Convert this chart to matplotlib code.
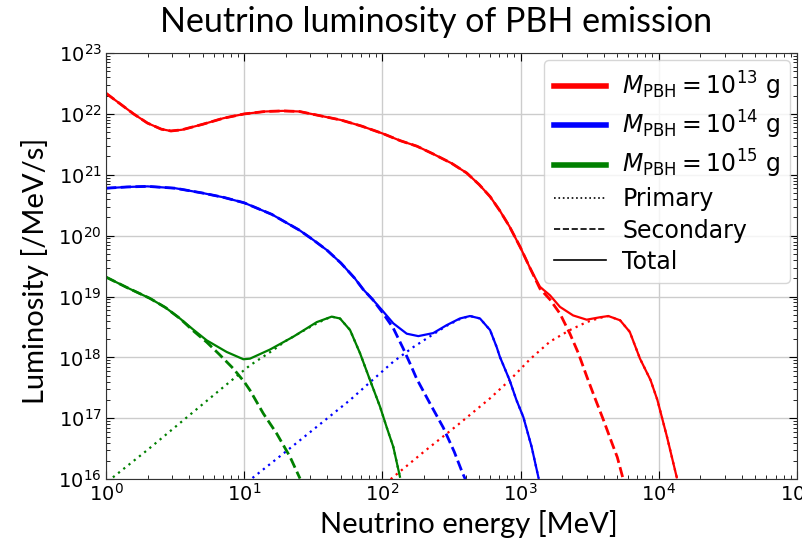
import numpy as np
import matplotlib
matplotlib.use("Agg")
import matplotlib.pyplot as plt
from matplotlib.lines import Line2D

# valores (log10 da energia em MeV, log10 da luminosidade em /MeV/s)
red_tot_logE = [0.0, 0.1, 0.2, 0.3, 0.4, 0.47, 0.55, 0.7, 0.85, 1.0, 1.15, 1.28, 1.4, 1.55, 1.7, 1.85, 2.0, 2.13, 2.25, 2.37, 2.5, 2.61, 2.7, 2.78, 2.85, 2.92, 3.0, 3.068, 3.14, 3.213, 3.285, 3.38, 3.478, 3.575, 3.635, 3.72, 3.79, 3.864, 3.94, 3.99, 4.06, 4.13]
red_tot_logL = [22.34, 22.17, 22.0, 21.85, 21.75, 21.72, 21.74, 21.83, 21.93, 22.0, 22.04, 22.05, 22.04, 21.97, 21.9, 21.8, 21.68, 21.56, 21.47, 21.34, 21.19, 21.03, 20.84, 20.64, 20.41, 20.15, 19.80, 19.47, 19.16, 19.02, 18.83, 18.69, 18.62, 18.66, 18.68, 18.61, 18.42, 17.98, 17.63, 17.30, 16.69, 16.03]
red_sec_logE = red_tot_logE[:28] + [3.14, 3.213, 3.285, 3.357, 3.418, 3.48, 3.54, 3.60, 3.66, 3.70, 3.74]
red_sec_logL = red_tot_logL[:28] + [19.13, 18.95, 18.72, 18.39, 18.07, 17.68, 17.32, 16.97, 16.6, 16.36, 16.02]
red_prim_logE = [2.06, 2.3, 2.55, 2.78, 2.923, 3.068, 3.213, 3.357, 3.478, 3.575, 3.635, 3.72, 3.79, 3.864, 3.94, 3.99, 4.06, 4.13]
red_prim_logL = [16.0, 16.45, 16.9, 17.33, 17.63, 17.97, 18.26, 18.45, 18.58, 18.65, 18.68, 18.61, 18.42, 17.98, 17.63, 17.30, 16.69, 16.03]

blue_tot_logE = [0.0, 0.15, 0.3, 0.5, 0.7, 0.85, 1.0, 1.2, 1.4, 1.5, 1.6, 1.7, 1.8, 1.86, 1.93, 2.0, 2.079, 2.176, 2.26, 2.368, 2.465, 2.561, 2.634, 2.706, 2.779, 2.827, 2.85, 2.92, 2.97, 3.02, 3.08, 3.13]
blue_tot_logL = [20.78, 20.80, 20.81, 20.78, 20.70, 20.63, 20.54, 20.35, 20.09, 19.93, 19.76, 19.55, 19.30, 19.12, 18.95, 18.77, 18.56, 18.39, 18.35, 18.40, 18.53, 18.64, 18.68, 18.64, 18.45, 18.17, 18.01, 17.63, 17.30, 17.02, 16.53, 16.02]
blue_sec_logE = blue_tot_logE[:15] + [2.0, 2.079, 2.15, 2.2, 2.248, 2.35, 2.44, 2.52, 2.58, 2.6]
blue_sec_logL = blue_tot_logL[:15] + [18.74, 18.48, 18.15, 17.90, 17.65, 17.22, 16.85, 16.45, 16.10, 16.0]
blue_prim_logE = [1.06, 1.283, 1.525, 1.766, 1.934, 2.079, 2.224, 2.368, 2.465, 2.561, 2.634, 2.706, 2.779, 2.827, 2.85, 2.92, 2.97, 3.02, 3.08, 3.13]
blue_prim_logL = [16.02, 16.42, 16.86, 17.30, 17.64, 17.93, 18.17, 18.38, 18.52, 18.63, 18.68, 18.64, 18.45, 18.17, 18.01, 17.63, 17.30, 17.02, 16.53, 16.02]

green_tot_logE = [0.0, 0.15, 0.318, 0.43, 0.535, 0.63, 0.729, 0.873, 0.994, 1.042, 1.187, 1.355, 1.525, 1.633, 1.693, 1.766, 1.838, 1.91, 1.983, 2.03, 2.079, 2.127]
green_tot_logL = [19.32, 19.15, 18.97, 18.82, 18.64, 18.46, 18.28, 18.09, 17.97, 17.98, 18.13, 18.34, 18.58, 18.67, 18.64, 18.45, 18.07, 17.63, 17.19, 16.86, 16.53, 16.04]
green_sec_logE = green_tot_logE[:5] + [0.63, 0.729, 0.82, 0.92, 1.0, 1.042, 1.138, 1.235, 1.331, 1.404]
green_sec_logL = green_tot_logL[:5] + [18.44, 18.25, 18.05, 17.82, 17.6, 17.46, 17.08, 16.75, 16.37, 16.01]
green_prim_logE = [0.05, 0.3, 0.55, 0.8, 0.95, 1.042, 1.21, 1.3, 1.4, 1.5, 1.58, 1.633, 1.693, 1.766, 1.838, 1.91, 1.983, 2.03, 2.079, 2.127]
green_prim_logL = [16.03, 16.48, 16.95, 17.42, 17.7, 17.87, 18.12, 18.27, 18.4, 18.53, 18.62, 18.67, 18.64, 18.45, 18.07, 17.63, 17.19, 16.86, 16.53, 16.04]

massas = ['13', '14', '15']
cores = ['red', 'blue', 'green']

curvas = [
    (red_tot_logE, red_tot_logL, red_sec_logE, red_sec_logL, red_prim_logE, red_prim_logL),
    (blue_tot_logE, blue_tot_logL, blue_sec_logE, blue_sec_logL, blue_prim_logE, blue_prim_logL),
    (green_tot_logE, green_tot_logL, green_sec_logE, green_sec_logL, green_prim_logE, green_prim_logL),
]

plt.rcParams['xtick.direction'] = 'in'
plt.rcParams['ytick.direction'] = 'in'
plt.rcParams['xtick.top'] = True
plt.rcParams['ytick.right'] = True

fig = plt.figure(figsize=(8.03, 5.47), dpi=100)
ax = fig.add_axes([0.132, 0.124, 0.8605, 0.779])

def p10(v):
    return 10 ** np.array(v)

for cor, (tE, tL, sE, sL, pE, pL) in zip(cores, curvas):
    ax.plot(p10(pE), p10(pL), color=cor, lw=1.6, linestyle=(0, (1, 2)))
    ax.plot(p10(sE), p10(sL), color=cor, lw=2, linestyle='--')
    ax.plot(p10(tE), p10(tL), color=cor, lw=1.6)

ax.set_xscale('log')
ax.set_yscale('log')
ax.set_xlim(1, 1e5)
ax.set_ylim(1e16, 1e23)
ax.grid(True, which='major', color='#cccccc', lw=1)
ax.tick_params(labelsize=14, pad=3)
ax.tick_params(which='major', length=6)
ax.tick_params(which='minor', length=3)
for s in ax.spines.values():
    s.set_color('#333333')

fonte = ['Lato', 'DejaVu Sans']
fig.text(436 / 803, 1 - 22 / 547, 'Neutrino luminosity of PBH emission', fontsize=24.5,
         family=fonte, ha='center', va='center')
ax.set_xlabel('Neutrino energy [MeV]', fontsize=21, family=fonte)
ax.set_ylabel('Luminosity [/MeV/s]', fontsize=21, family=fonte)
ax.xaxis.set_label_coords(0.525, -0.073)
ax.yaxis.set_label_coords(-0.083, 0.49)

handles = [Line2D([], [], color=c, lw=4) for c in cores]
labels = [r'$M_{\rm PBH}=10^{%s}$ g' % m for m in massas]
handles += [Line2D([], [], color='k', lw=1.2, linestyle=':'),
            Line2D([], [], color='k', lw=1.2, linestyle='--'),
            Line2D([], [], color='k', lw=1.2)]
labels += ['Primary', 'Secondary', 'Total']
ax.legend(handles, labels, loc='upper right', fontsize=17, labelspacing=0.3,
          handlelength=2.2, handletextpad=0.7, borderaxespad=0.3, framealpha=0.8)

fig.savefig('out.png', dpi=100)
